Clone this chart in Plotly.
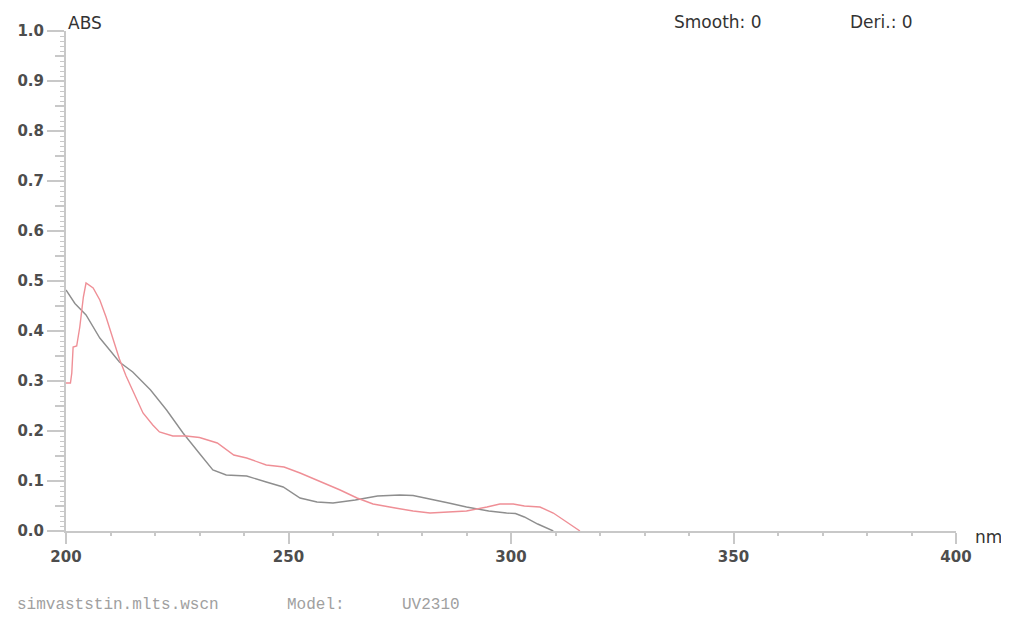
import plotly.graph_objects as go

# Data
gray_nm = [200, 202, 204.5, 207.6, 210, 212, 215, 219, 222.6, 226.3, 230, 233, 236,
           240.6, 245, 248.8, 252.6, 256.4, 260, 265, 270, 275, 278, 282, 286, 290,
           295, 299, 301, 303, 306, 309.5]
gray_abs = [0.482, 0.455, 0.432, 0.386, 0.36, 0.338, 0.318, 0.282, 0.242, 0.196, 0.155,
            0.122, 0.112, 0.11, 0.098, 0.088, 0.066, 0.058, 0.056, 0.062, 0.07, 0.072,
            0.071, 0.064, 0.056, 0.048, 0.040, 0.036, 0.035, 0.028, 0.014, 0.0]

red_nm = [200, 201, 201.3, 201.6, 202.4, 203.1, 203.9, 204.5, 206.1, 207.6, 209, 210.5,
          212, 213.5, 215, 217.3, 219.5, 221, 224, 227, 230, 234, 237.7, 240.6, 245,
          249, 252.6, 257, 261.6, 265.4, 269, 274, 278, 281.8, 286, 290, 294.6, 297.5,
          300.5, 303, 306.5, 309.5, 312.5, 315.5]
red_abs = [0.296, 0.296, 0.316, 0.368, 0.37, 0.408, 0.468, 0.496, 0.486, 0.462, 0.428,
           0.388, 0.344, 0.31, 0.282, 0.236, 0.212, 0.198, 0.19, 0.19, 0.187, 0.176,
           0.152, 0.146, 0.132, 0.128, 0.116, 0.1, 0.082, 0.066, 0.054, 0.046, 0.04,
           0.036, 0.038, 0.04, 0.048, 0.054, 0.054, 0.05, 0.048, 0.036, 0.018, 0.0]

x_ticks = [200, 250, 300, 350, 400]
y_ticks = [0.0, 0.1, 0.2, 0.3, 0.4, 0.5, 0.6, 0.7, 0.8, 0.9, 1.0]
y_mid_ticks = [0.05, 0.15, 0.25, 0.35, 0.45, 0.55, 0.65, 0.75, 0.85, 0.95]

fig = go.Figure()
fig.add_trace(go.Scatter(x=gray_nm, y=gray_abs, mode="lines",
                         line=dict(color="#8e8e8e", width=1.4), showlegend=False))
fig.add_trace(go.Scatter(x=red_nm, y=red_abs, mode="lines",
                         line=dict(color="#ef8f96", width=1.4), showlegend=False))
# invisible helper trace to activate the secondary y axis for mid ticks
fig.add_trace(go.Scatter(x=[200], y=[0], yaxis="y2", mode="markers",
                         marker=dict(opacity=0), showlegend=False, hoverinfo="skip"))

axis_color = "#c8c8c8"
tick_font = dict(family="DejaVu Sans", size=15, color="#4d4d4d", weight="bold")

# page body has an 8px margin; figure is sized/offset to compensate
fig.update_layout(
    width=1001, height=612,
    margin=dict(l=58, r=53, t=23, b=89, autoexpand=False),
    paper_bgcolor="white", plot_bgcolor="white",
    xaxis=dict(range=[200, 400], tickvals=x_ticks, ticktext=[str(v) for v in x_ticks],
               showgrid=False, zeroline=False, showline=True, linecolor=axis_color,
               linewidth=2, ticks="outside", ticklen=11, tickwidth=2, tickcolor=axis_color,
               tickfont=tick_font, automargin=False,
               minor=dict(dtick=10, ticks="outside", ticklen=3, tickwidth=2,
                          tickcolor=axis_color, showgrid=False)),
    yaxis=dict(range=[0, 1.0], tickvals=y_ticks, ticktext=[f"{v:.1f}" for v in y_ticks],
               showgrid=False, zeroline=False, showline=True, linecolor=axis_color,
               linewidth=2, ticks="outside", ticklen=17, tickwidth=2, tickcolor=axis_color,
               tickfont=tick_font, automargin=False,
               minor=dict(dtick=0.01, ticks="outside", ticklen=4, tickwidth=1,
                          tickcolor=axis_color, showgrid=False)),
    yaxis2=dict(range=[0, 1.0], overlaying="y", side="left", tickvals=y_mid_ticks,
                showticklabels=False, showgrid=False, zeroline=False, showline=False,
                ticks="outside", ticklen=10, tickwidth=1.5, tickcolor=axis_color,
                automargin=False),
)

label_font = dict(family="DejaVu Sans", size=17, color="#333333")
mono_font = dict(family="Liberation Mono, Courier New, monospace", size=16, color="#a0a0a0")

fig.add_annotation(text="ABS", xref="paper", yref="paper", x=0.0, y=1.016,
                   xanchor="left", yanchor="middle", showarrow=False, font=label_font)
fig.add_annotation(text="Smooth: 0", xref="paper", yref="paper", x=0.681, y=1.018,
                   xanchor="left", yanchor="middle", showarrow=False, font=label_font)
fig.add_annotation(text="Deri.: 0", xref="paper", yref="paper", x=0.879, y=1.018,
                   xanchor="left", yanchor="middle", showarrow=False, font=label_font)
fig.add_annotation(text="nm", xref="paper", yref="paper", x=1.019, y=-0.012,
                   xanchor="left", yanchor="middle", showarrow=False, font=label_font)
fig.add_annotation(text="simvaststin.mlts.wscn", xref="paper", yref="paper", x=-0.057,
                   y=-0.148, xanchor="left", yanchor="middle", showarrow=False, font=mono_font)
fig.add_annotation(text="Model:", xref="paper", yref="paper", x=0.246, y=-0.148,
                   xanchor="left", yanchor="middle", showarrow=False, font=mono_font)
fig.add_annotation(text="UV2310", xref="paper", yref="paper", x=0.375, y=-0.148,
                   xanchor="left", yanchor="middle", showarrow=False, font=mono_font)

fig.write_html("out.html")
